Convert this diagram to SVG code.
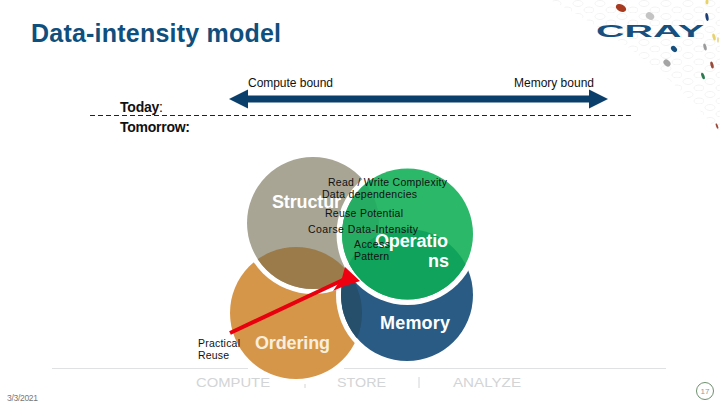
<svg xmlns="http://www.w3.org/2000/svg" width="720" height="405" viewBox="0 0 720 405">
<style>
text{font-family:"Liberation Sans",Arial,sans-serif}
.lbl{font-size:10.5px;fill:#111}
.top{font-size:12px;fill:#111}
.big{font-size:18px;font-weight:bold;fill:#fff}
.day{font-size:14px;font-weight:bold;fill:#111}
.foot{font-size:13px;fill:#d2d4d6}
.dot{stroke:none}
</style>
<defs>
<clipPath id="inGray"><circle cx="313" cy="223" r="66"/></clipPath>
<clipPath id="inBlue"><circle cx="407" cy="295" r="66"/></clipPath>
<clipPath id="inGreen"><circle cx="407.500" cy="234" r="65.500"/></clipPath>
<mask id="noGreen" maskUnits="userSpaceOnUse" x="0" y="0" width="720" height="405"><rect width="720" height="405" fill="#fff"/><circle cx="407.500" cy="234" r="71" fill="#000"/></mask>
<mask id="noGrayBlue" maskUnits="userSpaceOnUse" x="0" y="0" width="720" height="405"><rect width="720" height="405" fill="#fff"/><circle cx="313" cy="223" r="71" fill="#000"/><circle cx="407" cy="295" r="71" fill="#000"/></mask>
<pattern id="hex" width="22" height="13" patternUnits="userSpaceOnUse"><ellipse cx="6" cy="3.500" rx="5" ry="3" fill="none" stroke="#f3f3f3"/><ellipse cx="17" cy="10" rx="5" ry="3" fill="none" stroke="#f3f3f3"/></pattern>
</defs>
<rect width="720" height="405" fill="#fff"/>
<path id="backdrop" d="M550 0C610 30 680 80 720 135V0Z" fill="url(#hex)"/>
<g id="logo">
<ellipse class="dot" cx="621" cy="8" rx="5.500" ry="3.500" fill="#a83a20" transform="rotate(25 621 8)"/>
<ellipse class="dot" cx="650" cy="16" rx="4.500" ry="3.500" fill="#c4c4c4" transform="rotate(35 650 16)"/>
<ellipse class="dot" cx="674" cy="49" rx="3.500" ry="2.500" fill="#174f7e" transform="rotate(45 674 49)"/>
<ellipse class="dot" cx="667" cy="63" rx="4" ry="3" fill="#a5a5a5" transform="rotate(45 667 63)"/>
<ellipse class="dot" cx="707" cy="17" rx="1.500" ry="4" fill="#1d3f78" transform="rotate(-10 707 17)"/>
<ellipse class="dot" cx="707" cy="2" rx="1.500" ry="2.500" fill="#e8d36a"/>
<ellipse class="dot" cx="714" cy="37" rx="1.500" ry="3.500" fill="#e8d36a" transform="rotate(-15 714 37)"/>
<ellipse class="dot" cx="718" cy="40" rx="1" ry="3" fill="#e8d9a0"/>
<ellipse class="dot" cx="705" cy="47" rx="1.500" ry="3.500" fill="#9a9a9a" transform="rotate(-15 705 47)"/>
<ellipse class="dot" cx="712" cy="65" rx="1.500" ry="3.500" fill="#9a4a3a" transform="rotate(-15 712 65)"/>
<ellipse class="dot" cx="703" cy="76" rx="1.500" ry="3.500" fill="#2a7a50" transform="rotate(-20 703 76)"/>
<ellipse class="dot" cx="717" cy="126" rx="1" ry="3" fill="#9a4a3a" transform="rotate(-20 717 126)"/>
<text x="596" y="37" font-size="16" font-weight="bold" fill="#174f7e" textLength="108" lengthAdjust="spacingAndGlyphs">CRAY</text>
</g>
<text id="title" x="31" y="42" font-size="25" font-weight="bold" fill="#0f4f7d" textLength="250" lengthAdjust="spacing">Data-intensity model</text>
<g id="scale-labels">
<text class="top" x="248" y="87" textLength="85">Compute bound</text>
<text class="top" x="514" y="87" textLength="80">Memory bound</text>
<text class="day" x="120" y="112" textLength="43">Today<tspan font-weight="normal">:</tspan></text>
<text class="day" x="120" y="132" textLength="70">Tomorrow:</text>
</g>
<g id="footer">
<path d="M52 368.500H248M344 368.500H666" stroke="#dfe1e3" fill="none"/>
<text class="foot" x="196" y="387" textLength="74" lengthAdjust="spacingAndGlyphs">COMPUTE</text>
<text class="foot" x="337" y="387" textLength="49" lengthAdjust="spacingAndGlyphs">STORE</text>
<text class="foot" x="453" y="387" textLength="68" lengthAdjust="spacingAndGlyphs">ANALYZE</text>
<path d="M419 377V388" stroke="#d2d4d6"/>
<path d="M305 384V388" stroke="#d2d4d6"/>
<text x="7" y="401" font-size="8.500" fill="#777" textLength="31">3/3/2021</text>
</g>
<g id="page-number">
<circle cx="705" cy="391" r="8.500" fill="#fff" stroke="#6f8f6f"/>
<text x="705" y="394" font-size="8" fill="#999" text-anchor="middle">17</text>
</g>
<g id="ordering">
<circle cx="296" cy="313" r="66" fill="#d6964a" mask="url(#noGrayBlue)"/>
<text class="big" x="255" y="349" style="fill:#f8eedd" textLength="75">Ordering</text>
</g>
<g id="structure">
<g mask="url(#noGreen)">
<circle cx="313" cy="223" r="66" fill="#a8a595"/>
<circle cx="296" cy="313" r="66" fill="#9c7b4b" clip-path="url(#inGray)"/>
</g>
<text class="big" x="272" y="208" textLength="69">Structur</text>
</g>
<g id="memory">
<g mask="url(#noGreen)">
<circle cx="407" cy="295" r="66" fill="#295b85"/>
<circle cx="296" cy="313" r="66" fill="#264f6c" clip-path="url(#inBlue)"/>
</g>
<text class="big" x="380" y="329" font-size="17" textLength="70">Memory</text>
</g>
<g id="operations">
<circle cx="407.500" cy="234" r="65.500" fill="#2bb869"/>
<circle cx="313" cy="223" r="66" fill="#27ad63" clip-path="url(#inGreen)"/>
<circle cx="407" cy="295" r="66" fill="#0fa35b" clip-path="url(#inGreen)"/>
<text class="big" x="375" y="247" textLength="73">Operatio</text>
<text class="big" x="428" y="267" textLength="21">ns</text>
</g>
<g id="connectors">
<path d="M229 113" fill="none"/>
<path d="M246 99H590" stroke="#0a3f6b" stroke-width="7" fill="none"/>
<polygon points="229,99 248,89.500 248,108.500" fill="#0a3f6b"/>
<polygon points="608,99 589,89.500 589,108.500" fill="#0a3f6b"/>
<path d="M90 115.500H631" stroke="#222" stroke-dasharray="5 3" fill="none"/>
<path d="M230 333L345 279" stroke="#e8000f" stroke-width="4" fill="none"/>
<polygon points="345,267 360,281 342,287 333,291 342,278" fill="#ee0010"/>
</g>
<g id="labels">
<text class="lbl" x="328" y="186" textLength="119">Read / Write Complexity</text>
<text class="lbl" x="322" y="198" textLength="95">Data dependencies</text>
<text class="lbl" x="325" y="217" textLength="78">Reuse Potential</text>
<text class="lbl" x="308" y="233" textLength="110">Coarse Data-Intensity</text>
<text class="lbl" x="354" y="248" textLength="36">Access</text>
<text class="lbl" x="354" y="260" textLength="35">Pattern</text>
<text class="lbl" x="198" y="347" textLength="42">Practical</text>
<text class="lbl" x="198" y="359" textLength="31">Reuse</text>
</g>
</svg>
